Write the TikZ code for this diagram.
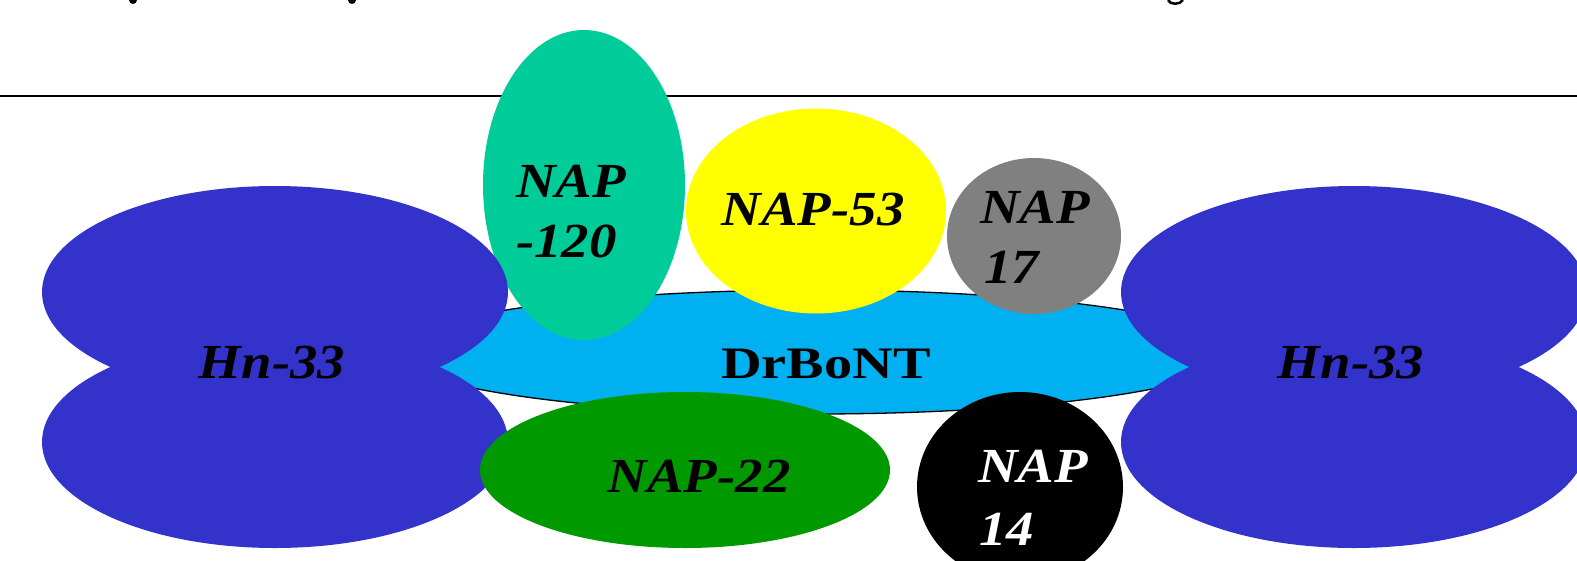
\documentclass[tikz,border=0pt]{standalone}
\usepackage{fontspec}
\setmainfont{Liberation Serif}
\newfontfamily\labfont[FakeStretch=1.12]{Liberation Serif}
\newfontfamily\drfont[FakeStretch=1.25]{Liberation Serif}
\usetikzlibrary{shapes.geometric}
\definecolor{hnblue}{HTML}{3333CC}
\definecolor{drblue}{HTML}{00B0F0}
\definecolor{napteal}{HTML}{00CC99}
\definecolor{napyellow}{HTML}{FFFF00}
\definecolor{napgray}{HTML}{808080}
\definecolor{napgreen}{HTML}{009900}
\begin{document}
\begin{tikzpicture}[x=1pt,y=-1pt,
  blob/.style={ellipse, inner sep=0pt, draw=none},
  lab/.style={inner sep=0pt, text=black, font=\labfont\bfseries\itshape\fontsize{49}{58}\selectfont},
  drlab/.style={inner sep=0pt, text=black, font=\drfont\bfseries\fontsize{45}{54}\selectfont}]
\useasboundingbox (0,0) rectangle (1577,560);
\clip (0,0) rectangle (1577,560);
\fill[white] (0,0) rectangle (1577,560);
% cut-off text fragments at top
\fill[black] (133,0) ellipse [x radius=4, y radius=4];
\fill[black] (352,0) ellipse [x radius=4, y radius=4];
\draw[black, line width=2.5pt] (1168,0) .. controls (1170,5) and (1180,5) .. (1183,0);
% rule
\coordinate (ruleL) at (0,96);
\coordinate (ruleR) at (1577,96);
\draw[black, line width=2.5pt] (ruleL) -- (ruleR);
% DrBoNT body
\node[blob, fill=drblue, draw=black, line width=1.3pt, minimum width=840pt, minimum height=124pt] (dr) at (815,352) {};
% NAP-120
\node[blob, fill=napteal, minimum width=202pt, minimum height=310pt] (nap120) at (584,185) {};
% NAP-53
\node[blob, fill=napyellow, minimum width=260pt, minimum height=205pt] (nap53) at (816,211) {};
% NAP 17
\node[blob, fill=napgray, minimum width=174pt, minimum height=156pt] (nap17) at (1034,236) {};
% left Hn-33
\node[blob, fill=hnblue, minimum width=466pt, minimum height=212pt] (hnLt) at (275,292) {};
\node[blob, fill=hnblue, minimum width=466pt, minimum height=212pt] (hnLb) at (275,442) {};
% NAP-22
\node[blob, fill=napgreen, minimum width=410pt, minimum height=156pt] (nap22) at (685,470) {};
% NAP 14
\node[blob, fill=black, minimum width=206pt, minimum height=190pt] (nap14) at (1020,487) {};
% right Hn-33
\node[blob, fill=hnblue, minimum width=466pt, minimum height=212pt] (hnRt) at (1354,292) {};
\node[blob, fill=hnblue, minimum width=466pt, minimum height=212pt] (hnRb) at (1354,442) {};
% labels
\node[lab, anchor=base] (tHnL) at (272,378) {Hn-33};
\node[lab, anchor=base] (tHnR) at (1351,378) {Hn-33};
\node[lab, anchor=base] (t53) at (813,225) {NAP-53};
\node[drlab, anchor=base] (tdr) at (826,378) {DrBoNT};
\node[lab, anchor=base] (t22) at (699,492) {NAP-22};
\node[lab, anchor=base west] (t120a) at (516,197) {NAP};
\node[lab, anchor=base west] (t120b) at (516,257) {-120};
\node[lab, anchor=base west] (t17a) at (980,223) {NAP};
\node[lab, anchor=base west] (t17b) at (984,283) {17};
\node[lab, anchor=base west, text=white] (t14a) at (978,482) {NAP};
\node[lab, anchor=base west, text=white] (t14b) at (979,545) {14};
\end{tikzpicture}
\end{document}
